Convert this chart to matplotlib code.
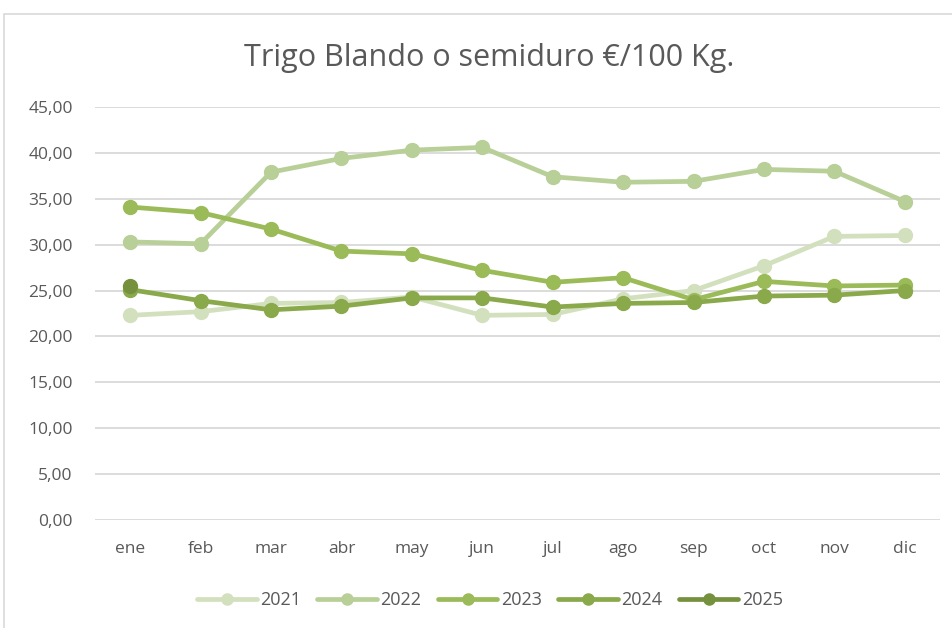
import matplotlib
matplotlib.use("Agg")
import matplotlib.pyplot as plt
from matplotlib.patches import Rectangle
from matplotlib.ticker import FuncFormatter, MultipleLocator

months = ["ene", "feb", "mar", "abr", "may", "jun", "jul", "ago", "sep", "oct", "nov", "dic"]
y2021 = [22.3, 22.7, 23.6, 23.7, 24.3, 22.3, 22.4, 24.1, 25.0, 27.7, 30.9, 31.0]
y2022 = [30.3, 30.1, 37.9, 39.4, 40.3, 40.6, 37.4, 36.8, 36.9, 38.2, 38.0, 34.7]
y2023 = [34.1, 33.5, 31.7, 29.3, 29.0, 27.2, 25.9, 26.4, 24.0, 26.0, 25.5, 25.6]
y2024 = [25.1, 23.9, 22.9, 23.3, 24.2, 24.2, 23.2, 23.6, 23.7, 24.4, 24.5, 25.0]
y2025 = [25.5]
labels = ["2021", "2022", "2023", "2024", "2025"]
colors = ["#d3e0be", "#b8cf97", "#9bbb59", "#89a94b", "#76913d"]
series = [y2021, y2022, y2023, y2024, y2025]

plt.rcParams['font.family'] = ['Open Sans', 'DejaVu Sans']
fig = plt.figure(figsize=(9.53, 6.28), dpi=100)
fig.patches.append(Rectangle((4/953, -0.01), 1.0, 1 - 14/628 + 0.01, transform=fig.transFigure,
                             fill=False, edgecolor="#d9d9d9", linewidth=1.2))
ax = fig.add_axes([95/953, 1 - 520/628, 845/953, 413/628])

x = list(range(len(months)))
for vals, lab, c in zip(series, labels, colors):
    ax.plot(x[:len(vals)], vals, color=c, linewidth=3.4, marker='o', markersize=10,
            label=lab, solid_capstyle='round')

ax.set_xlim(-0.5, 11.5)
ax.set_ylim(0, 45)
ax.yaxis.set_major_locator(MultipleLocator(5))
ax.yaxis.set_major_formatter(FuncFormatter(lambda v, p: f"{v:.2f}".replace('.', ',')))
ax.set_xticks(x)
ax.set_xticklabels(months)
ax.grid(axis='y', color="#d9d9d9", linewidth=1.3)
ax.set_axisbelow(True)
for s in ax.spines.values():
    s.set_visible(False)
ax.tick_params(axis='both', length=0, labelsize=12.5, colors="#595959")
ax.tick_params(axis='x', pad=15)
ax.tick_params(axis='y', pad=16)

fig.text(489/953, 1 - 58/628, "Trigo Blando o semiduro €/100 Kg.", ha='center', va='center',
         fontsize=22, color="#595959")

leg = fig.legend(loc='center', bbox_to_anchor=(490/953, 1 - 600/628), ncol=5, frameon=False,
                 fontsize=13, handlelength=3.3, columnspacing=0.9, handletextpad=0.2,
                 markerscale=0.8)
for t in leg.get_texts():
    t.set_color("#595959")

fig.savefig("out.png", dpi=100)
